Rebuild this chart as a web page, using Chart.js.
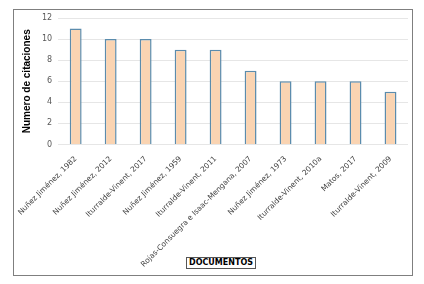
<!DOCTYPE html>
<html>
<head>
<meta charset="utf-8">
<script src="https://cdn.jsdelivr.net/npm/chart.js@4"></script>
<style>
  html, body { margin: 0; padding: 0; background: #fff; }
  #wrap { position: relative; width: 424px; height: 284px; }
  #frame { position: absolute; left: 13px; top: 9px; width: 398px; height: 265px; border: 1px solid #7f7f7f; }
  #xtitle { position: absolute; left: 186px; top: 257px; padding: 0 2px; border: 1px solid #555;
    font: bold 8px "DejaVu Sans", Verdana, sans-serif; line-height: 10px; color: #000; background: #fff; }
  canvas { position: absolute; left: 0; top: 0; }
</style>
</head>
<body>
<div id="wrap">
  <div id="frame"></div>
  <canvas id="chart" width="424" height="284"></canvas>
  <div id="xtitle">DOCUMENTOS</div>
</div>
<script>
const documentos = [
  'Nuñez Jiménez, 1982',
  'Nuñez Jiménez, 2012',
  'Iturralde-Vinent, 2017',
  'Nuñez Jiménez, 1959',
  'Iturralde-Vinent, 2011',
  'Rojas-Consuegra e Isaac-Mengana, 2007',
  'Nuñez Jiménez, 1973',
  'Iturralde-Vinent, 2010a',
  'Matos, 2017',
  'Iturralde-Vinent, 2009',
];
const citaciones = [11, 10, 10, 9, 9, 7, 6, 6, 6, 5];
const yTicks = [0, 2, 4, 6, 8, 10, 12];

new Chart(document.getElementById('chart'), {
  type: 'bar',
  data: {
    labels: documentos,
    datasets: [{
      label: 'Numero de citaciones',
      data: citaciones,
      backgroundColor: '#fad4b2',
      borderColor: '#5b8cad',
      borderWidth: 1.5,
      barPercentage: 0.34,
      categoryPercentage: 1,
    }],
  },
  options: {
    responsive: false,
    animation: false,
    layout: { padding: { left: 21, top: 18, right: 16, bottom: 13 } },
    plugins: {
      legend: { display: false },
      tooltip: { enabled: false },
    },
    scales: {
      x: {
        grid: { display: false },
        border: { display: false },
        ticks: {
          minRotation: 45,
          maxRotation: 45,
          padding: 2,
          color: '#404040',
          font: { family: 'DejaVu Sans', size: 7.5 },
        },
      },
      y: {
        min: 0,
        max: 12,
        afterBuildTicks: (axis) => { axis.ticks = yTicks.map(v => ({ value: v })); },
        grid: { color: '#e6e6e6', drawTicks: false },
        border: { display: false },
        ticks: {
          padding: 6,
          color: '#595959',
          font: { family: 'DejaVu Sans', size: 8 },
        },
        title: {
          display: true,
          text: 'Numero de citaciones',
          color: '#000',
          padding: { top: 0, bottom: 3 },
          font: { family: 'Liberation Sans', size: 10, weight: 'bold' },
        },
      },
    },
  },
});
</script>
</body>
</html>
